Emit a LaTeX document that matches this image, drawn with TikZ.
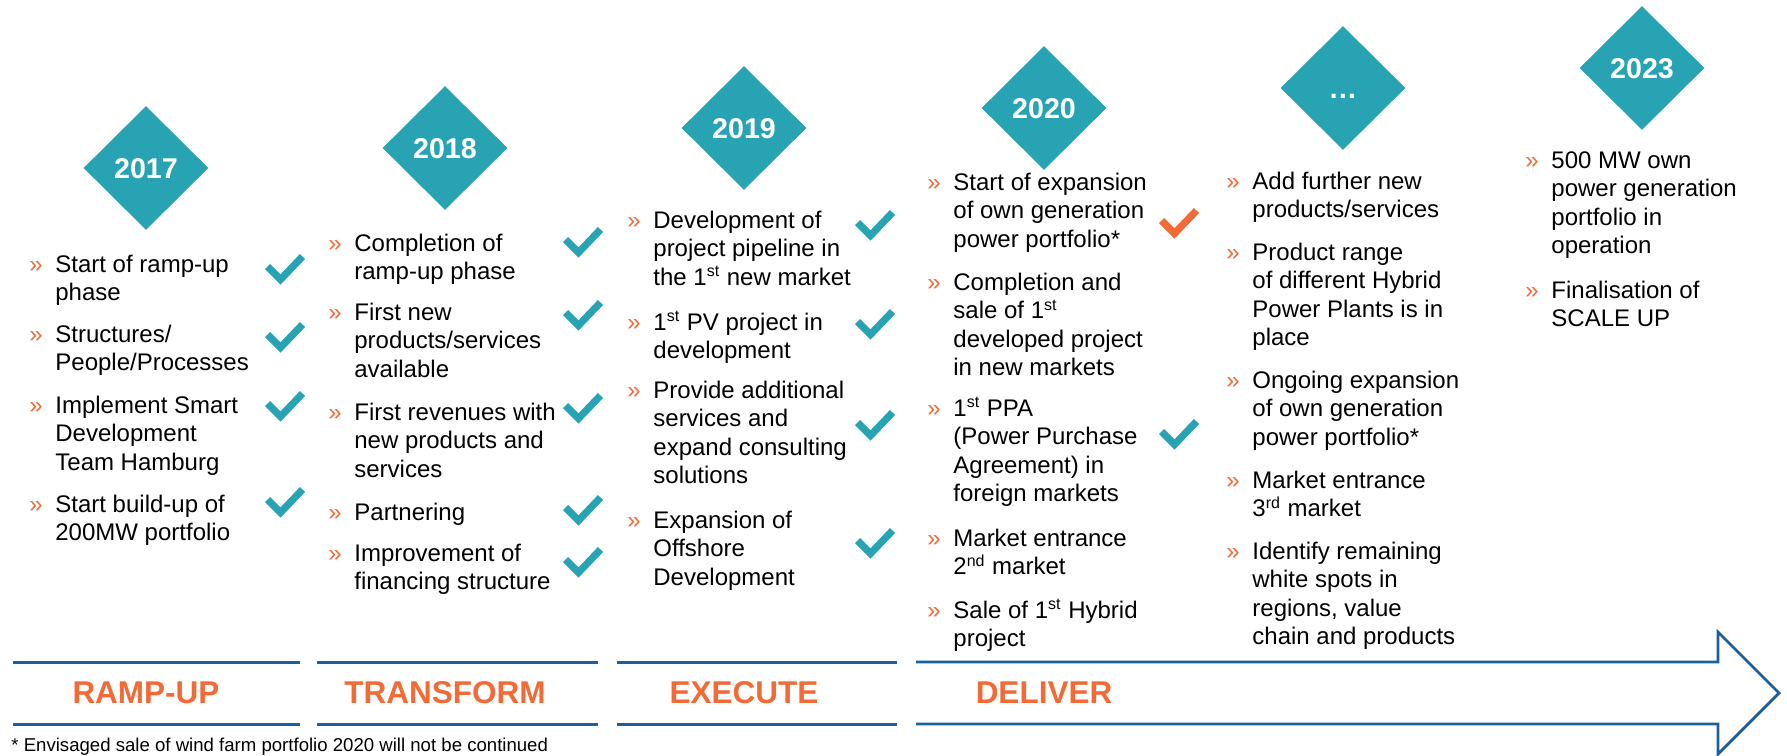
\documentclass[tikz,border=0pt]{standalone}
\usepackage{fontspec}
\setmainfont{Liberation Sans}
\usetikzlibrary{shapes.geometric}
\definecolor{rpteal}{HTML}{27A3B4}
\definecolor{rporange}{HTML}{F26A36}
\definecolor{rpblue}{HTML}{1B5F9C}
\tikzset{
    yearbox/.style={diamond, aspect=1, fill=rpteal, text=white, inner sep=0pt,
        minimum width=62.5pt, minimum height=62pt, text height=10.2pt, text depth=0pt,
        font=\fontsize{14.3}{17}\selectfont\bfseries},
    bulletmark/.style={anchor=base west, inner sep=0pt, text=rporange, font=\fontsize{12}{14.25}\selectfont},
    itemtext/.style={anchor=north west, inner sep=0pt, align=left, font=\fontsize{12}{14.25}\selectfont},
    phaselabel/.style={text=rporange, inner sep=0pt, font=\fontsize{15.75}{18}\selectfont\bfseries},
    bandline/.style={rpblue, line width=1.5pt},
    checkmark/.pic={\draw[line width=3.6pt] (-15.5,-3.5) -- (-2.5,9.5) -- (19.5,-13.5);}
}
\newcommand{\firstline}{\rule{0pt}{11pt}}
\begin{document}
\begin{tikzpicture}[x=0.5pt, y=-0.5pt]
            \useasboundingbox (0,0) rectangle (1787,755);

            \foreach \x/\y/\yr [count=\i] in {146/168/2017, 445/148/2018, 744/128/2019, 1044/108/2020, 1343/88/{…}, 1642/68/2023}
                \node[yearbox] (year\i) at (\x,\y) {\yr};

            \foreach \y/\t [count=\i] in {272/{Start of ramp-up\\phase}, 342/{Structures/\\People/Processes},
                413/{Implement Smart\\Development\\Team Hamburg}, 512/{Start build-up of\\200MW portfolio}}
                {
                    \node[bulletmark] (ba\i) at (29,\y) {»};
                    \node[itemtext] (ta\i) at (55,\y-22) {\firstline\t};
                }
            \foreach \y/\t [count=\i] in {251/{Completion of\\ramp-up phase}, 320/{First new\\products/services\\available},
                420/{First revenues with\\new products and\\services}, 520/{Partnering}, 561/{Improvement of\\financing structure}}
                {
                    \node[bulletmark] (bb\i) at (328,\y) {»};
                    \node[itemtext] (tb\i) at (354,\y-22) {\firstline\t};
                }
            \foreach \y/\t [count=\i] in {228/{Development of\\project pipeline in\\the 1\textsuperscript{st} new market},
                330/{1\textsuperscript{st} PV project in\\development}, 398/{Provide additional\\services and\\expand consulting\\solutions},
                528/{Expansion of\\Offshore\\Development}}
                {
                    \node[bulletmark] (bc\i) at (627,\y) {»};
                    \node[itemtext] (tc\i) at (653,\y-22) {\firstline\t};
                }
            \foreach \y/\t [count=\i] in {190/{Start of expansion\\of own generation\\power portfolio*},
                290/{Completion and\\sale of 1\textsuperscript{st}\\developed project\\in new markets},
                416/{1\textsuperscript{st} PPA\\(Power Purchase\\Agreement) in\\foreign markets},
                546/{Market entrance\\2\textsuperscript{nd} market}, 618/{Sale of 1\textsuperscript{st} Hybrid\\project}}
                {
                    \node[bulletmark] (bd\i) at (927,\y) {»};
                    \node[itemtext] (td\i) at (953,\y-22) {\firstline\t};
                }
            \foreach \y/\t [count=\i] in {189/{Add further new\\products/services},
                260/{Product range\\of different Hybrid\\Power Plants is in\\place},
                388/{Ongoing expansion\\of own generation\\power portfolio*},
                488/{Market entrance\\3\textsuperscript{rd} market},
                559/{Identify remaining\\white spots in\\regions, value\\chain and products}}
                {
                    \node[bulletmark] (be\i) at (1226,\y) {»};
                    \node[itemtext] (te\i) at (1252,\y-22) {\firstline\t};
                }
            \foreach \y/\t [count=\i] in {168/{500 MW own\\power generation\\portfolio in\\operation}, 298/{Finalisation of\\SCALE UP}}
                {
                    \node[bulletmark] (bf\i) at (1525,\y) {»};
                    \node[itemtext] (tf\i) at (1551,\y-22) {\firstline\t};
                }

            \foreach \x/\y in {283/270, 283/338, 283/407, 283/503, 581/243, 581/316, 581/409, 581/511, 581/563,
                873/226, 873/325, 873/426, 873/544, 1177/435}
                \pic[rpteal] at (\x,\y) {checkmark};
            \pic[rporange] at (1177,224) {checkmark};

            \foreach \a/\b in {13/300, 317/598, 617/897}
                {
                    \draw[bandline] (\a,662) -- (\b,662);
                    \draw[bandline] (\a,724) -- (\b,724);
                }
            \draw[bandline, line width=1.4pt] (916,662) -- (1718,662) -- (1718,632) -- (1779,693) -- (1718,754) -- (1718,724) -- (916,724);

            \node[phaselabel] (rampup) at (146,693) {RAMP-UP};
            \node[phaselabel] (transform) at (445,693) {TRANSFORM};
            \node[phaselabel] (execute) at (744,693) {EXECUTE};
            \node[phaselabel] (deliver) at (1044,693) {DELIVER};

            \node[anchor=base west, inner sep=0pt, font=\fontsize{9.3}{11}\selectfont] (note) at (11,751)
                {* Envisaged sale of wind farm portfolio 2020 will not be continued};
\end{tikzpicture}
\end{document}
